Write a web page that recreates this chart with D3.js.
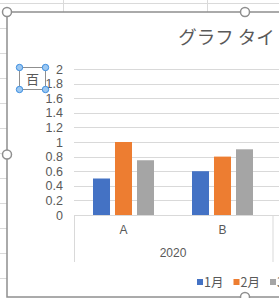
<!DOCTYPE html>
<html>
<head>
<meta charset="utf-8">
<script src="https://cdn.jsdelivr.net/npm/d3@7"></script>
<style>
  body { margin: 0; background: #fff; overflow: hidden; }
  svg { display: block; font-family: "Noto Sans CJK JP", "Noto Sans", sans-serif; }
</style>
</head>
<body>
<div id="chart"></div>
<script>
const categories = ["A", "B"];
const groupLabel = "2020";
const seriesNames = ["1月", "2月", "3月"];
const seriesValues = [
  [0.5, 0.6],   // 1月
  [1.0, 0.8],   // 2月
  [0.75, 0.9],  // 3月
];
const yTicks = [0, 0.2, 0.4, 0.6, 0.8, 1, 1.2, 1.4, 1.6, 1.8, 2];
const titleText = "グラフ タイトル";
const boxText = "百";

const colors = ["#4472c4", "#ed7d31", "#a5a5a5"];
const textColor = "#595959";

const width = 279, height = 298;
const margin = { top: 69, left: 74, bottom: 215 };

const svg = d3.select("#chart").append("svg")
  .attr("width", width)
  .attr("height", height);

// spreadsheet cells behind the chart
const sheet = svg.append("g").attr("stroke", "#dadada").attr("stroke-width", 1);
d3.range(28, 298, 25).forEach(y => {
  sheet.append("line").attr("x1", 0).attr("x2", 7).attr("y1", y + 0.5).attr("y2", y + 0.5);
});
sheet.append("line").attr("x1", 0).attr("x2", width).attr("y1", 3.5).attr("y2", 3.5);
[63, 207].forEach(x => {
  sheet.append("line").attr("x1", x + 0.5).attr("x2", x + 0.5).attr("y1", 0).attr("y2", 12);
});

// chart area
const chartArea = svg.append("g");
chartArea.append("rect")
  .attr("x", 7).attr("y", 12)
  .attr("width", 476).attr("height", 285)
  .attr("fill", "#fff")
  .attr("stroke", "#8f8f8f")
  .attr("stroke-width", 1.5);

// title
chartArea.append("text")
  .attr("x", 245).attr("y", 44)
  .attr("text-anchor", "middle")
  .attr("fill", textColor)
  .attr("font-size", 18.5)
  .text(titleText);

// scales
const y = d3.scaleLinear().domain([0, 2]).range([margin.bottom, margin.top]);
const x = d3.scaleBand().domain(categories).range([margin.left, margin.left + 198]);
const xInner = d3.scaleBand().domain(seriesNames).range([19, 80]).paddingInner(0.227);

// gridlines
chartArea.append("g")
  .selectAll("line")
  .data(yTicks.filter(d => d > 0))
  .join("line")
  .attr("x1", margin.left).attr("x2", 483)
  .attr("y1", d => Math.round(y(d)) + 0.5)
  .attr("y2", d => Math.round(y(d)) + 0.5)
  .attr("stroke", "#d9d9d9");

// y axis
const yAxisGroup = chartArea.append("g")
  .attr("transform", `translate(${margin.left},0)`)
  .call(d3.axisLeft(y).tickValues(yTicks).tickSize(0).tickPadding(11)
    .tickFormat(d => String(+d.toFixed(1))))
  .call(g => g.select(".domain").remove());
yAxisGroup.selectAll("text")
  .attr("fill", textColor)
  .attr("font-size", 12.5)
  .attr("font-family", "'Liberation Sans', sans-serif");

// bars
const bar = chartArea.append("g")
  .selectAll("g")
  .data(seriesValues)
  .join("g")
  .attr("fill", (d, i) => colors[i]);

bar.selectAll("rect")
  .data((d, i) => d.map((v, j) => ({ v, cat: categories[j], s: seriesNames[i] })))
  .join("rect")
  .attr("x", d => x(d.cat) + xInner(d.s))
  .attr("width", xInner.bandwidth())
  .attr("y", d => y(d.v))
  .attr("height", d => y(0) - y(d.v));

// x axis (multi-level)
const xAxisGroup = chartArea.append("g").attr("stroke", "#d9d9d9");
xAxisGroup.append("line")
  .attr("x1", margin.left).attr("x2", 483)
  .attr("y1", y(0) + 0.5).attr("y2", y(0) + 0.5);
[x.range()[0], x.range()[1] + 0.5].forEach(xv => {
  xAxisGroup.append("line")
    .attr("x1", xv + 0.5).attr("x2", xv + 0.5)
    .attr("y1", y(0)).attr("y2", y(0) + 47);
});

chartArea.append("g")
  .selectAll("text")
  .data(categories)
  .join("text")
  .attr("x", d => x(d) + x.bandwidth() / 2)
  .attr("y", y(0) + 19)
  .attr("text-anchor", "middle")
  .attr("fill", textColor)
  .attr("font-size", 12)
  .attr("font-family", "'Liberation Sans', sans-serif")
  .text(d => d);

chartArea.append("text")
  .attr("x", (x.range()[0] + x.range()[1]) / 2)
  .attr("y", y(0) + 42)
  .attr("text-anchor", "middle")
  .attr("fill", textColor)
  .attr("font-size", 12)
  .attr("font-family", "'Liberation Sans', sans-serif")
  .text(groupLabel);

// legend
const legend = chartArea.append("g")
  .selectAll("g")
  .data(seriesNames)
  .join("g")
  .attr("transform", (d, i) => `translate(${197 + i * 36.5},279)`);
legend.append("rect")
  .attr("width", 6).attr("height", 6)
  .attr("fill", (d, i) => colors[i]);
legend.append("text")
  .attr("x", 7).attr("y", 8)
  .attr("fill", textColor)
  .attr("font-size", 12.5)
  .text(d => d);

// small text box with selection handles
const box = svg.append("g");
box.append("rect")
  .attr("x", 19.5).attr("y", 67.5)
  .attr("width", 26).attr("height", 22)
  .attr("fill", "#fff")
  .attr("stroke", "#8f8f8f");
box.append("text")
  .attr("x", 32.5).attr("y", 84)
  .attr("text-anchor", "middle")
  .attr("fill", textColor)
  .attr("font-size", 13)
  .text(boxText);
[[19.5, 67.5], [45.5, 67.5], [19.5, 89.5], [45.5, 89.5]].forEach(([cx, cy]) => {
  box.append("circle")
    .attr("cx", cx).attr("cy", cy).attr("r", 3.2)
    .attr("fill", "#9cc8f2")
    .attr("stroke", "#3d8ee0")
    .attr("stroke-width", 1);
});

// chart selection handles
[[7, 12], [245, 12], [7, 154.5], [245, 297]].forEach(([cx, cy]) => {
  svg.append("circle")
    .attr("cx", cx).attr("cy", cy).attr("r", 4.5)
    .attr("fill", "#fff")
    .attr("stroke", "#8f8f8f")
    .attr("stroke-width", 1.5);
});
</script>
</body>
</html>
